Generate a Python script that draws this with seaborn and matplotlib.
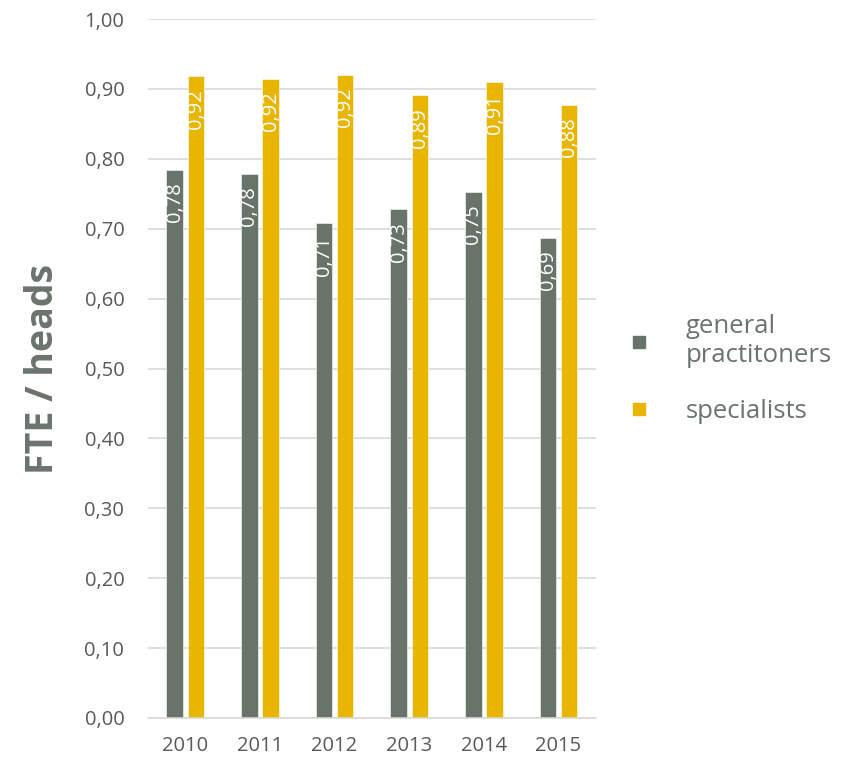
import matplotlib
matplotlib.use("Agg")
import matplotlib.pyplot as plt
import seaborn as sns
import pandas as pd
from matplotlib.lines import Line2D

years = ["2010", "2011", "2012", "2013", "2014", "2015"]
series_names = ["general practitoners", "specialists"]
gp_values = [0.784, 0.779, 0.708, 0.728, 0.753, 0.687]
spec_values = [0.918, 0.915, 0.920, 0.891, 0.910, 0.877]
y_ticks = [0.0, 0.1, 0.2, 0.3, 0.4, 0.5, 0.6, 0.7, 0.8, 0.9, 1.0]
y_label = "FTE / heads"

colors = ["#68736a", "#e8b500"]
text_gray = "#595959"
legend_gray = "#6b736d"

sns.set_theme(style="white")
plt.rcParams["font.family"] = ["Open Sans", "DejaVu Sans"]

df = pd.DataFrame({
    "year": years * 2,
    "value": gp_values + spec_values,
    "series": [series_names[0]] * len(years) + [series_names[1]] * len(years),
})

fig = plt.figure(figsize=(8.5, 7.58), dpi=100)
ax = fig.add_axes([0.174, 0.0528, 0.527, 0.922])

sns.barplot(data=df, x="year", y="value", hue="series", palette=colors,
            width=0.57, gap=0.22, ax=ax, legend=False, saturation=1,
            edgecolor="white", linewidth=0.4)

ax.set_ylim(0, 1.0)
ax.set_yticks(y_ticks)
ax.set_yticklabels([f"{t:.2f}".replace(".", ",") for t in y_ticks])
ax.grid(axis="y", color="#d9d9d9", linewidth=1.2)
ax.set_axisbelow(True)
for s in ["top", "right", "left"]:
    ax.spines[s].set_visible(False)
ax.spines["bottom"].set_color("#d9d9d9")
ax.spines["bottom"].set_linewidth(1.2)
ax.tick_params(axis="y", length=0, pad=17, labelsize=14.5, labelcolor=text_gray)
ax.tick_params(axis="x", length=0, pad=13, labelsize=14.5, labelcolor=text_gray)
ax.set_xlabel("")
ax.set_ylabel(y_label, fontsize=27, fontweight="bold", color=legend_gray, labelpad=16)

all_vals = [gp_values, spec_values]
for cont, vals in zip(ax.containers, all_vals):
    for bar, v in zip(cont, vals):
        ax.annotate(f"{v:.2f}".replace(".", ","),
                    xy=(bar.get_x() + bar.get_width() / 2, bar.get_height()),
                    xytext=(0, -9), textcoords="offset points",
                    rotation=90, ha="center", va="top", color="white", fontsize=14.5)

handles = [Line2D([0], [0], marker="s", linestyle="none", markersize=9,
                  markerfacecolor=c, markeredgecolor=c) for c in colors]
labels = ["general\npractitoners", "specialists"]
fig.legend(handles, labels, loc="center left", bbox_to_anchor=(0.71, 0.513),
           frameon=False, fontsize=18.5, labelcolor=legend_gray,
           handletextpad=1.3, labelspacing=1.2, handlelength=1.0)

fig.savefig("out.png", dpi=100)
